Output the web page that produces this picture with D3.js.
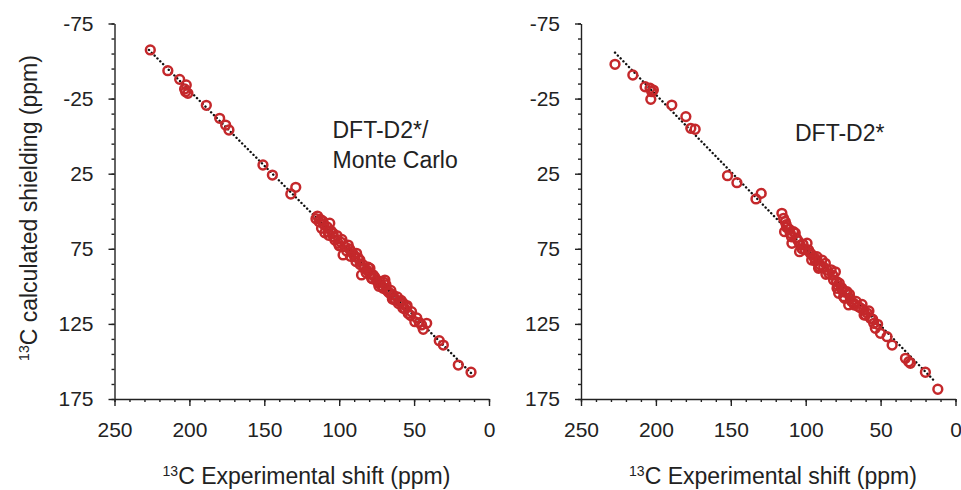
<!DOCTYPE html>
<html>
<head>
<meta charset="utf-8">
<script src="https://cdn.jsdelivr.net/npm/d3@7"></script>
<style>
  body { margin: 0; background: #fff; }
  svg text { font-family: "Liberation Sans", Arial, Helvetica, sans-serif; fill: #222; }
  .axis path, .axis line { stroke: #222; stroke-width: 1.4; }
</style>
</head>
<body>
<script>
// tick labels
var shiftTicks = [250, 200, 150, 100, 50, 0];
var shieldTicks = [-75, -25, 25, 75, 125, 175];

// DFT-D2*/Monte Carlo panel: experimental shift vs calculated shielding (ppm)
var leftExp = [226.1, 214.4, 206.5, 202.1, 202.5, 201.0, 203.2, 188.7, 179.8, 175.8, 173.6, 150.9, 144.6, 129.0, 132.3,
  114.5, 113.4, 106.3, 111.8, 109.6, 107.4, 104.1, 102.9, 100.7, 96.2, 94.0, 97.4, 91.8, 89.6, 86.2, 88.4, 84.0, 85.1,
  81.7, 79.5, 77.3, 78.4, 75.1, 72.9, 69.5, 70.7, 68.4, 66.2, 64.0, 62.8, 59.5, 57.3, 55.0, 51.7, 53.9,
  112.5, 110.2, 108.0, 105.5, 103.8, 101.5, 99.0, 98.2, 95.0, 93.1, 90.5, 87.4, 86.0, 83.2, 80.6, 79.0, 76.2, 74.0,
  71.8, 70.0, 67.2, 65.5, 63.3, 61.2, 60.4, 58.6, 56.1, 54.7, 52.3, 48.2, 46.5,
  115.5, 111.0, 107.0, 100.0, 92.5, 88.8, 82.0, 77.8, 73.5, 68.8, 64.5, 57.5,
  49.5, 45.0, 41.6, 43.9, 33.2, 30.5, 20.5, 12.0];
var leftCalc = [-57.4, -43.6, -37.8, -34.1, -29.6, -28.5, -31.4, -20.5, -11.9, -7.4, -4.1, 19.2, 25.9, 34.1, 38.5,
  53.2, 57.0, 58.0, 61.4, 64.3, 63.6, 64.7, 69.1, 71.3, 73.6, 72.5, 79.1, 76.9, 80.3, 82.5, 78.0, 85.8, 92.4,
  89.1, 88.0, 92.4, 94.6, 95.8, 96.9, 95.8, 101.3, 102.4, 104.6, 105.8, 109.1, 110.2, 111.3, 113.6, 116.9, 118.0,
  55.5, 58.8, 60.5, 62.9, 67.0, 66.2, 70.5, 68.8, 76.4, 75.0, 78.6, 81.0, 85.5, 88.1, 87.2, 91.9, 94.0, 97.8,
  99.5, 97.4, 103.8, 102.7, 107.9, 107.1, 111.5, 109.4, 115.0, 112.8, 119.4, 121.0, 124.1,
  55.0, 56.5, 66.0, 73.0, 80.0, 83.5, 91.0, 95.0, 100.0, 99.0, 108.5, 114.5,
  123.5, 125.7, 124.6, 128.6, 136.2, 139.1, 152.4, 157.2];
var leftFitExp = [227, 12];
var leftFitCalc = [-57.4, 157.7];

// DFT-D2* panel
var rightExp = [227.3, 215.4, 207.2, 203.9, 201.7, 202.7, 203.4, 189.4, 180.0, 176.7, 173.8, 152.2, 145.9, 129.7, 133.2,
  115.9, 114.8, 113.6, 114.1, 108.1, 110.3, 109.2, 103.6, 99.1, 104.1, 98.1, 95.8, 92.5, 89.1, 91.4, 86.9, 85.8,
  80.2, 81.4, 79.1, 78.0, 75.7, 72.4, 74.7, 70.2, 71.3, 68.0, 64.7, 61.3, 60.2, 56.8, 54.6, 53.5, 50.1, 45.7, 42.3,
  112.6, 111.0, 106.2, 105.0, 101.8, 100.5, 97.0, 94.2, 93.6, 90.2, 88.0, 84.5, 83.0, 79.4, 77.6, 76.0, 73.5,
  70.8, 69.5, 66.3, 63.2, 62.4, 59.0, 57.8, 55.3, 52.0,
  113.0, 109.5, 107.0, 102.5, 96.0, 91.0, 86.5, 82.0, 78.5, 74.0, 67.5, 61.0,
  33.4, 31.2, 30.1, 20.1, 11.8];
var rightCalc = [-47.8, -40.7, -32.9, -31.9, -30.7, -29.6, -24.5, -20.7, -13.0, -5.2, -4.6, 26.3, 31.0, 38.1, 41.8,
  51.4, 54.7, 57.0, 63.6, 63.6, 64.7, 71.3, 72.5, 71.3, 76.9, 75.8, 79.1, 80.3, 82.5, 88.0, 84.7, 89.1,
  90.3, 95.8, 101.3, 104.6, 102.4, 103.6, 106.9, 108.0, 112.4, 111.3, 113.6, 115.8, 119.1, 121.3, 124.6, 127.9, 131.3, 133.5, 139.1,
  60.8, 62.0, 67.9, 69.8, 72.0, 75.5, 77.8, 80.9, 83.2, 85.8, 87.2, 91.5, 89.0, 96.7, 97.9, 101.0, 104.0,
  105.3, 109.9, 110.1, 114.5, 112.0, 117.8, 116.4, 121.9, 125.3,
  59.0, 67.0, 64.5, 75.0, 82.5, 87.0, 92.0, 92.5, 99.5, 108.0, 112.5, 119.0,
  147.9, 150.2, 151.2, 157.2, 168.5];
var rightFitExp = [227.3, 13.4];
var rightFitCalc = [-55.6, 163.7];

var outer_width = 961, outer_height = 490;
var plot_top = 23.5;
var plot_w = 374.5;
var plot_h = 375.5;
var red = "#c4282b";

var svg = d3.select("body")
  .append("svg")
  .attr("width", outer_width)
  .attr("height", outer_height);

var panels = [
  { left: 114.5, exp: leftExp, calc: leftCalc, fitExp: leftFitExp, fitCalc: leftFitCalc,
    label: ["DFT-D2*/", "Monte Carlo"], labelX: 218, labelY: 138 },
  { left: 581, exp: rightExp, calc: rightCalc, fitExp: rightFitExp, fitCalc: rightFitCalc,
    label: ["DFT-D2*"], labelX: 214, labelY: 141 }
];

panels.forEach(function (p) {
  var g = svg.append("g")
    .attr("transform", "translate(" + p.left + "," + plot_top + ")");

  var xScale = d3.scaleLinear().domain([250, 0]).range([0, plot_w]);
  var yScale = d3.scaleLinear().domain([-75, 175]).range([0, plot_h]);

  // minor ticks
  g.append("g")
    .attr("class", "axis minor")
    .attr("transform", "translate(0," + plot_h + ")")
    .call(d3.axisBottom(xScale).tickValues(d3.range(0, 251, 10)).tickSize(3).tickFormat(""))
    .select(".domain").remove();
  g.append("g")
    .attr("class", "axis minor")
    .call(d3.axisLeft(yScale).tickValues(d3.range(-75, 176, 10)).tickSize(3).tickFormat(""))
    .select(".domain").remove();

  // major axes (plain hyphen for negatives, as in the original)
  var xg = g.append("g")
    .attr("class", "axis")
    .attr("transform", "translate(0," + plot_h + ")")
    .call(d3.axisBottom(xScale).tickValues(shiftTicks).tickSize(7).tickSizeOuter(0).tickPadding(16)
      .tickFormat(function (d) { return String(d); }));
  var yg = g.append("g")
    .attr("class", "axis")
    .call(d3.axisLeft(yScale).tickValues(shieldTicks).tickSize(6).tickSizeOuter(0).tickPadding(15)
      .tickFormat(function (d) { return String(d); }));

  [xg, yg].forEach(function (a) {
    a.attr("font-size", null).attr("font-family", null);
    a.selectAll("text").style("font-size", "21px");
  });

  // dotted fit line
  var fit = p.fitExp.map(function (d, i) { return [d, p.fitCalc[i]]; });
  g.append("path")
    .datum(fit)
    .attr("d", d3.line().x(function (d) { return xScale(d[0]); }).y(function (d) { return yScale(d[1]); }))
    .attr("fill", "none")
    .attr("stroke", "#111")
    .attr("stroke-width", 2.4)
    .attr("stroke-linecap", "round")
    .attr("stroke-dasharray", "0.1,3.9");

  // points
  g.selectAll("circle.pt")
    .data(p.exp)
    .enter()
    .append("circle")
    .attr("class", "pt")
    .attr("cx", function (d) { return xScale(d); })
    .attr("cy", function (d, i) { return yScale(p.calc[i]); })
    .attr("r", 4.4)
    .attr("fill", "none")
    .attr("stroke", red)
    .attr("stroke-width", 2.5);

  // method label
  p.label.forEach(function (t, i) {
    g.append("text")
      .attr("x", p.labelX)
      .attr("y", p.labelY - plot_top + i * 30)
      .style("font-size", "23px")
      .text(t);
  });

  // x axis title
  var xt = svg.append("text")
    .attr("x", p.left + 192)
    .attr("y", 484)
    .style("text-anchor", "middle")
    .style("font-size", "23px");
  xt.append("tspan").style("font-size", "14px").attr("dy", -8).text("13");
  xt.append("tspan").attr("dy", 8).text("C Experimental shift (ppm)");
});

// y axis title
var yt = svg.append("text")
  .attr("transform", "rotate(-90)")
  .attr("x", -208)
  .attr("y", 37)
  .style("text-anchor", "middle")
  .style("font-size", "23px");
yt.append("tspan").style("font-size", "14px").attr("dy", -8).text("13");
yt.append("tspan").attr("dy", 8).text("C calculated shielding (ppm)");
</script>
</body>
</html>
